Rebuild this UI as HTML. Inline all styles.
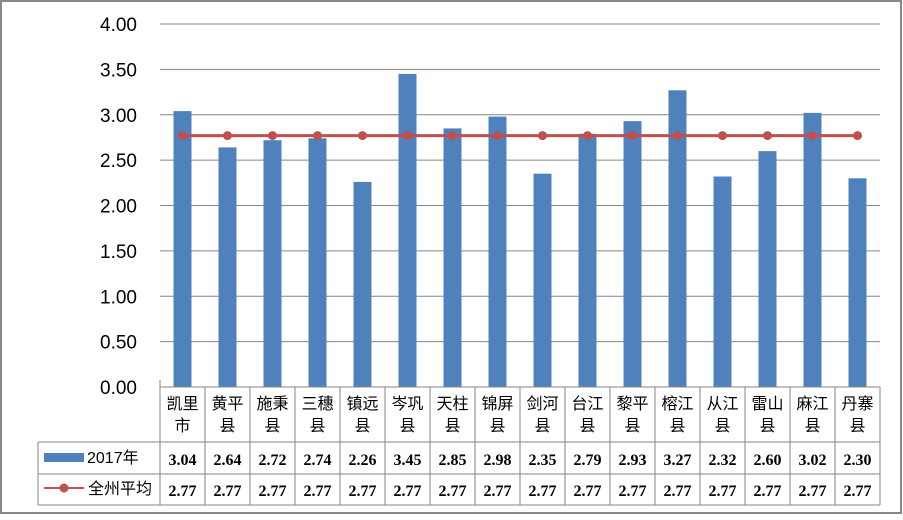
<!DOCTYPE html><html><head><meta charset="utf-8"><style>body{margin:0;background:#fff}text{font-family:"Liberation Sans","Noto Sans CJK SC",sans-serif}.n{font-family:"Liberation Serif",serif;font-weight:bold;font-size:16px}</style></head><body>
<svg width="903" height="515" xmlns="http://www.w3.org/2000/svg">
<rect x="1" y="1" width="900" height="512" fill="#fff" stroke="#888" stroke-width="2"/>
<g stroke="#868686">
<line x1="160" x2="880" y1="341.6" y2="341.6"/><line x1="160" x2="880" y1="296.3" y2="296.3"/><line x1="160" x2="880" y1="250.9" y2="250.9"/><line x1="160" x2="880" y1="205.5" y2="205.5"/><line x1="160" x2="880" y1="160.1" y2="160.1"/><line x1="160" x2="880" y1="114.8" y2="114.8"/><line x1="160" x2="880" y1="69.4" y2="69.4"/><line x1="160" x2="880" y1="24" y2="24"/>
</g>
<g font-size="19" text-anchor="end">
<text x="137" y="394">0.00</text><text x="137" y="348.6">0.50</text><text x="137" y="303.3">1.00</text><text x="137" y="257.9">1.50</text><text x="137" y="212.5">2.00</text><text x="137" y="167.1">2.50</text><text x="137" y="121.8">3.00</text><text x="137" y="76.4">3.50</text><text x="137" y="31">4.00</text>
</g>
<g fill="#4f81bd">
<rect x="173.5" y="111.1" width="18" height="275.9"/><rect x="218.5" y="147.4" width="18" height="239.6"/><rect x="263.5" y="140.2" width="18" height="246.8"/><rect x="308.5" y="138.3" width="18" height="248.7"/><rect x="353.5" y="181.9" width="18" height="205.1"/><rect x="398.5" y="73.9" width="18" height="313.1"/><rect x="443.5" y="128.4" width="18" height="258.6"/><rect x="488.5" y="116.6" width="18" height="270.4"/><rect x="533.5" y="173.7" width="18" height="213.3"/><rect x="578.5" y="133.8" width="18" height="253.2"/><rect x="623.5" y="121.1" width="18" height="265.9"/><rect x="668.5" y="90.3" width="18" height="296.7"/><rect x="713.5" y="176.5" width="18" height="210.5"/><rect x="758.5" y="151.1" width="18" height="235.9"/><rect x="803.5" y="112.9" width="18" height="274.1"/><rect x="848.5" y="178.3" width="18" height="208.7"/>
</g>
<line x1="182.5" x2="857.5" y1="135.6" y2="135.6" stroke="#c0504d" stroke-width="3"/>
<g fill="#c0504d">
<circle cx="182.5" cy="135.6" r="4.5"/><circle cx="227.5" cy="135.6" r="4.5"/><circle cx="272.5" cy="135.6" r="4.5"/><circle cx="317.5" cy="135.6" r="4.5"/><circle cx="362.5" cy="135.6" r="4.5"/><circle cx="407.5" cy="135.6" r="4.5"/><circle cx="452.5" cy="135.6" r="4.5"/><circle cx="497.5" cy="135.6" r="4.5"/><circle cx="542.5" cy="135.6" r="4.5"/><circle cx="587.5" cy="135.6" r="4.5"/><circle cx="632.5" cy="135.6" r="4.5"/><circle cx="677.5" cy="135.6" r="4.5"/><circle cx="722.5" cy="135.6" r="4.5"/><circle cx="767.5" cy="135.6" r="4.5"/><circle cx="812.5" cy="135.6" r="4.5"/><circle cx="857.5" cy="135.6" r="4.5"/>
</g>
<g stroke="#868686">
<line x1="160" x2="880" y1="387" y2="387"/><line x1="38" x2="880" y1="442" y2="442"/><line x1="38" x2="880" y1="474" y2="474"/><line x1="38" x2="880" y1="505" y2="505"/><line x1="38" x2="38" y1="442" y2="505"/>
<line x1="160" x2="160" y1="380" y2="505"/><line x1="205" x2="205" y1="387" y2="505"/><line x1="250" x2="250" y1="387" y2="505"/><line x1="295" x2="295" y1="387" y2="505"/><line x1="340" x2="340" y1="387" y2="505"/><line x1="385" x2="385" y1="387" y2="505"/><line x1="430" x2="430" y1="387" y2="505"/><line x1="475" x2="475" y1="387" y2="505"/><line x1="520" x2="520" y1="387" y2="505"/><line x1="565" x2="565" y1="387" y2="505"/><line x1="610" x2="610" y1="387" y2="505"/><line x1="655" x2="655" y1="387" y2="505"/><line x1="700" x2="700" y1="387" y2="505"/><line x1="745" x2="745" y1="387" y2="505"/><line x1="790" x2="790" y1="387" y2="505"/><line x1="835" x2="835" y1="387" y2="505"/><line x1="880" x2="880" y1="387" y2="505"/>
</g>
<g font-size="16" text-anchor="middle">
<text x="182.5" y="409">凯里</text><text x="182.5" y="431">市</text>
<text x="227.5" y="409">黄平</text><text x="227.5" y="431">县</text>
<text x="272.5" y="409">施秉</text><text x="272.5" y="431">县</text>
<text x="317.5" y="409">三穗</text><text x="317.5" y="431">县</text>
<text x="362.5" y="409">镇远</text><text x="362.5" y="431">县</text>
<text x="407.5" y="409">岑巩</text><text x="407.5" y="431">县</text>
<text x="452.5" y="409">天柱</text><text x="452.5" y="431">县</text>
<text x="497.5" y="409">锦屏</text><text x="497.5" y="431">县</text>
<text x="542.5" y="409">剑河</text><text x="542.5" y="431">县</text>
<text x="587.5" y="409">台江</text><text x="587.5" y="431">县</text>
<text x="632.5" y="409">黎平</text><text x="632.5" y="431">县</text>
<text x="677.5" y="409">榕江</text><text x="677.5" y="431">县</text>
<text x="722.5" y="409">从江</text><text x="722.5" y="431">县</text>
<text x="767.5" y="409">雷山</text><text x="767.5" y="431">县</text>
<text x="812.5" y="409">麻江</text><text x="812.5" y="431">县</text>
<text x="857.5" y="409">丹寨</text><text x="857.5" y="431">县</text>
</g>
<g class="n" text-anchor="middle">
<text class="n" x="182.5" y="465">3.04</text><text class="n" x="227.5" y="465">2.64</text><text class="n" x="272.5" y="465">2.72</text><text class="n" x="317.5" y="465">2.74</text><text class="n" x="362.5" y="465">2.26</text><text class="n" x="407.5" y="465">3.45</text><text class="n" x="452.5" y="465">2.85</text><text class="n" x="497.5" y="465">2.98</text><text class="n" x="542.5" y="465">2.35</text><text class="n" x="587.5" y="465">2.79</text><text class="n" x="632.5" y="465">2.93</text><text class="n" x="677.5" y="465">3.27</text><text class="n" x="722.5" y="465">2.32</text><text class="n" x="767.5" y="465">2.60</text><text class="n" x="812.5" y="465">3.02</text><text class="n" x="857.5" y="465">2.30</text>
<text class="n" x="182.5" y="496">2.77</text><text class="n" x="227.5" y="496">2.77</text><text class="n" x="272.5" y="496">2.77</text><text class="n" x="317.5" y="496">2.77</text><text class="n" x="362.5" y="496">2.77</text><text class="n" x="407.5" y="496">2.77</text><text class="n" x="452.5" y="496">2.77</text><text class="n" x="497.5" y="496">2.77</text><text class="n" x="542.5" y="496">2.77</text><text class="n" x="587.5" y="496">2.77</text><text class="n" x="632.5" y="496">2.77</text><text class="n" x="677.5" y="496">2.77</text><text class="n" x="722.5" y="496">2.77</text><text class="n" x="767.5" y="496">2.77</text><text class="n" x="812.5" y="496">2.77</text><text class="n" x="857.5" y="496">2.77</text>
</g>
<rect x="44" y="453" width="40" height="9" fill="#4f81bd"/><text x="87" y="463" font-size="16">2017年</text>
<line x1="44" x2="84" y1="488" y2="488" stroke="#c0504d" stroke-width="2"/><circle cx="64" cy="488" r="4.5" fill="#c0504d"/><text x="88" y="494" font-size="16">全州平均</text>
</svg></body></html>
